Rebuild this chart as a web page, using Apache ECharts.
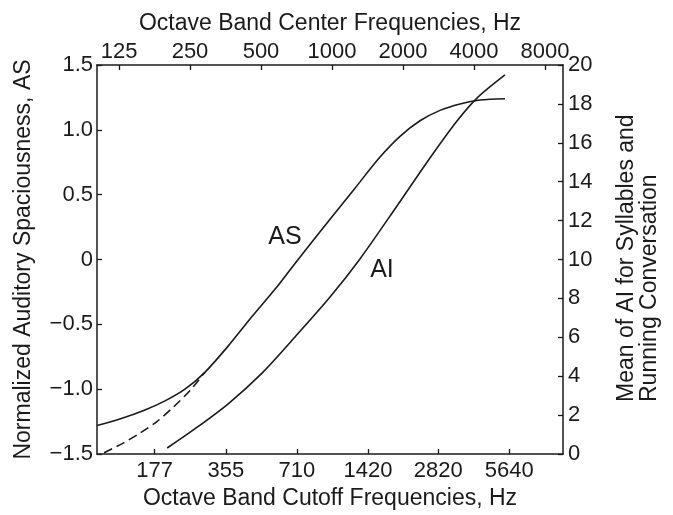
<!DOCTYPE html>
<html>
<head>
<meta charset="utf-8">
<script src="https://cdn.jsdelivr.net/npm/echarts@6.0.0/dist/echarts.min.js"></script>
<style>html,body{margin:0;padding:0;background:#fff;}#chart{width:673px;height:515px;}</style>
</head>
<body>
<div id="chart"></div>
<script>
// Tick labels
const centerFreqs = [125, 250, 500, 1000, 2000, 4000, 8000];
const cutoffFreqs = [177, 355, 710, 1420, 2820, 5640];
// AS curve (solid), left axis: frequency (Hz) / normalized AS
const asFreq = [101, 126, 161, 196, 238, 289, 362, 458, 573, 697, 981, 1252, 1598, 1943, 2361, 2870, 3489, 4242, 5414];
const asVal  = [-1.28, -1.23, -1.16, -1.09, -1.00, -0.87, -0.67, -0.44, -0.23, -0.03, 0.31, 0.55, 0.79, 0.95, 1.07, 1.15, 1.20, 1.23, 1.24];
// Dashed curve, left axis
const dashFreq = [108, 129, 153, 181, 212, 250, 289];
const dashVal  = [-1.49, -1.42, -1.34, -1.25, -1.14, -1.01, -0.87];
// AI curve, right axis
const aiFreq = [200, 262, 362, 505, 697, 981, 1314, 1886, 2603, 3389, 4119, 5414];
const aiVal  = [0.31, 1.29, 2.57, 4.16, 6.02, 8.07, 10.03, 12.75, 15.22, 17.12, 18.30, 19.49];
// Curve labels: [frequency, value]
const asLabel = [632, 0.17];
const aiLabel = [1629, 9.46];

const REF = 125;
const oct = f => Math.log2(f / REF);
const pts = (fs, vs) => fs.map((f, i) => [oct(f), vs[i]]);

const FONT = 'Liberation Sans, Arial, Helvetica, sans-serif';
const INK = '#1a1a1a';
const xMin = -0.31, xMax = 6.254;

const axisLineStyle = { show: true, onZero: false, lineStyle: { color: INK, width: 1.5 } };
const tickStyle = { show: true, inside: true, length: 5, lineStyle: { color: INK, width: 1.3 } };
const labelText = { color: INK, fontSize: 22, fontFamily: FONT };
const nameText = { color: INK, fontSize: 23, fontFamily: FONT };

function nearestLabel(list, v) {
  let best = list[0], bd = Infinity;
  list.forEach(f => { const d = Math.abs(oct(f) - v); if (d < bd) { bd = d; best = f; } });
  return String(best);
}

const chart = echarts.init(document.getElementById('chart'), null, { renderer: 'canvas' });
chart.setOption({
  animation: false,
  backgroundColor: '#fff',
  textStyle: { fontFamily: FONT },
  grid: { left: 97, right: 110, top: 65, bottom: 61, containLabel: false },
  xAxis: [
    {
      type: 'value', position: 'bottom', min: xMin, max: xMax,
      axisLine: axisLineStyle,
      axisTick: Object.assign({}, tickStyle, { customValues: cutoffFreqs.map(oct) }),
      axisLabel: Object.assign({}, labelText, { margin: 6, customValues: cutoffFreqs.map(oct),
        formatter: v => nearestLabel(cutoffFreqs, v) }),
      splitLine: { show: false },
      name: 'Octave Band Cutoff Frequencies, Hz', nameLocation: 'middle', nameGap: 31,
      nameTextStyle: nameText
    },
    {
      type: 'value', position: 'top', min: xMin, max: xMax,
      axisLine: axisLineStyle,
      axisTick: Object.assign({}, tickStyle, { customValues: centerFreqs.map(oct) }),
      axisLabel: Object.assign({}, labelText, { margin: 2, customValues: centerFreqs.map(oct),
        formatter: v => nearestLabel(centerFreqs, v) }),
      splitLine: { show: false },
      name: 'Octave Band Center Frequencies, Hz', nameLocation: 'middle', nameGap: 30,
      nameTextStyle: nameText
    }
  ],
  yAxis: [
    {
      type: 'value', position: 'left', min: -1.5, max: 1.5, interval: 0.5,
      axisLine: axisLineStyle, axisTick: tickStyle,
      axisLabel: Object.assign({}, labelText, { margin: 4,
        formatter: v => v === 0 ? '0' : (v < 0 ? '\u2212' : '') + Math.abs(v).toFixed(1) }),
      splitLine: { show: false },
      name: 'Normalized Auditory Spaciousness, AS', nameLocation: 'middle', nameGap: 62, nameRotate: 90,
      nameTextStyle: nameText
    },
    {
      type: 'value', position: 'right', min: 0, max: 20, interval: 2,
      axisLine: axisLineStyle, axisTick: tickStyle,
      axisLabel: Object.assign({}, labelText, { margin: 5 }),
      splitLine: { show: false }
    }
  ],
  graphic: [
    {
      type: 'text', x: 638, y: 402, rotation: Math.PI / 2,
      style: {
        text: 'Mean of AI for Syllables and\nRunning Conversation',
        align: 'left', verticalAlign: 'middle', lineHeight: 23,
        fill: INK, font: '23px ' + FONT
      }
    }
  ],
  series: [
    {
      name: 'AS', type: 'line', xAxisIndex: 0, yAxisIndex: 0,
      data: pts(asFreq, asVal), smooth: 0.3, showSymbol: false,
      lineStyle: { color: INK, width: 1.6 },
      markPoint: {
        symbol: 'circle', symbolSize: 1, itemStyle: { color: 'rgba(0,0,0,0)' },
        label: { show: true, position: 'inside', formatter: 'AS', color: INK, fontSize: 25, fontFamily: FONT },
        data: [{ coord: [oct(asLabel[0]), asLabel[1]] }]
      }
    },
    {
      name: 'dashed', type: 'line', xAxisIndex: 0, yAxisIndex: 0,
      data: pts(dashFreq, dashVal), smooth: 0.3, showSymbol: false,
      lineStyle: { color: INK, width: 1.6, type: [9, 5] }
    },
    {
      name: 'AI', type: 'line', xAxisIndex: 0, yAxisIndex: 1,
      data: pts(aiFreq, aiVal), smooth: 0.3, showSymbol: false,
      lineStyle: { color: INK, width: 1.6 },
      markPoint: {
        symbol: 'circle', symbolSize: 1, itemStyle: { color: 'rgba(0,0,0,0)' },
        label: { show: true, position: 'inside', formatter: 'AI', color: INK, fontSize: 25, fontFamily: FONT },
        data: [{ coord: [oct(aiLabel[0]), aiLabel[1]] }]
      }
    }
  ]
});
</script>
</body>
</html>
